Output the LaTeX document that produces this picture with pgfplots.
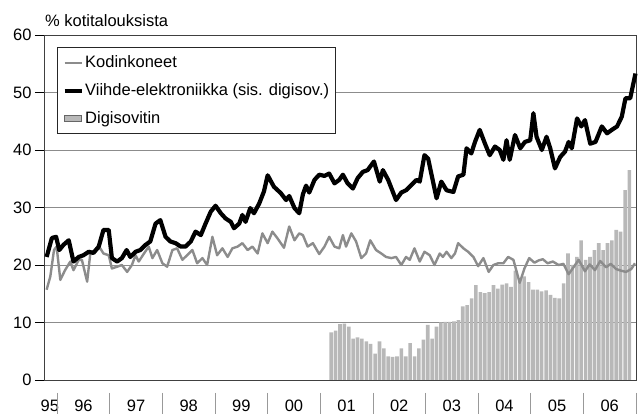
\documentclass[border=0pt]{standalone}
\usepackage{fontspec}
\setmainfont{Liberation Sans}
\usepackage{pgfplots}
\usepackage{pgfplotstable}
\pgfplotsset{compat=1.18}

\pgfplotstableread{
x y
1995.80 21.4
1995.90 24.7
1995.98 24.9
1996.04 22.6
1996.12 23.5
1996.22 24.3
1996.31 20.6
1996.41 21.4
1996.50 21.7
1996.60 22.3
1996.69 22.1
1996.79 23.2
1996.88 26.1
1996.98 26.1
1997.04 21.2
1997.14 20.6
1997.23 21.2
1997.32 22.6
1997.39 21.4
1997.49 22.3
1997.58 22.6
1997.68 23.5
1997.77 24.1
1997.87 27.2
1997.96 27.8
1998.06 24.9
1998.15 24.1
1998.25 23.8
1998.35 23.2
1998.44 23.2
1998.54 24.1
1998.63 25.8
1998.73 25.2
1998.82 27.2
1998.92 29.3
1999.01 30.3
1999.11 29.0
1999.20 28.1
1999.30 27.5
1999.36 26.4
1999.46 27.2
1999.52 28.7
1999.58 27.5
1999.67 29.9
1999.74 29.0
1999.84 30.7
1999.93 32.8
2000.00 35.6
2000.12 33.6
2000.25 32.5
2000.35 31.3
2000.41 32.0
2000.51 29.9
2000.60 29.0
2000.67 32.3
2000.73 33.8
2000.79 32.6
2000.89 34.8
2000.98 35.7
2001.08 35.5
2001.17 35.9
2001.27 34.2
2001.36 34.8
2001.43 35.7
2001.52 34.2
2001.62 33.3
2001.71 35.1
2001.81 36.2
2001.90 36.5
2002.02 38.0
2002.13 34.5
2002.19 36.5
2002.29 34.8
2002.38 32.7
2002.44 31.3
2002.54 32.6
2002.63 33.0
2002.73 33.9
2002.83 34.8
2002.89 34.5
2002.98 39.1
2003.05 38.5
2003.11 35.9
2003.21 31.6
2003.30 34.5
2003.40 33.0
2003.53 32.7
2003.62 35.4
2003.72 35.7
2003.78 40.3
2003.87 39.4
2003.94 41.4
2004.03 43.5
2004.13 41.1
2004.22 39.1
2004.32 40.6
2004.41 40.0
2004.48 38.3
2004.54 41.7
2004.60 38.3
2004.70 42.6
2004.80 40.3
2004.89 41.4
2004.99 41.7
2005.05 46.4
2005.11 42.3
2005.21 40.0
2005.30 42.3
2005.37 40.3
2005.46 36.8
2005.56 38.8
2005.65 39.7
2005.72 41.4
2005.78 40.3
2005.88 45.5
2005.96 44.1
2006.03 45.2
2006.13 41.1
2006.23 41.4
2006.35 44.1
2006.45 42.9
2006.54 43.5
2006.64 44.1
2006.73 45.8
2006.80 49.0
2006.89 49.0
2006.99 53.3
}\viihde

\pgfplotstableread{
x y
1995.80 15.7
1995.87 18.0
1995.94 22.6
1995.99 23.2
1996.06 17.4
1996.15 19.1
1996.25 20.6
1996.31 19.1
1996.41 20.9
1996.47 20.9
1996.57 17.1
1996.63 22.0
1996.72 22.6
1996.82 22.9
1996.88 22.0
1996.98 21.7
1997.04 19.4
1997.14 19.7
1997.23 20.0
1997.33 18.8
1997.42 20.0
1997.49 21.7
1997.55 20.6
1997.65 22.0
1997.74 23.2
1997.81 21.2
1997.90 22.6
1998.00 20.3
1998.09 19.7
1998.19 22.6
1998.28 22.9
1998.38 20.9
1998.47 21.7
1998.57 22.6
1998.66 20.3
1998.76 21.2
1998.85 20.0
1998.95 24.9
1999.04 21.7
1999.14 22.9
1999.24 21.4
1999.33 22.9
1999.43 23.2
1999.52 23.8
1999.62 22.6
1999.71 23.2
1999.81 22.0
1999.90 25.5
2000.00 23.8
2000.09 25.8
2000.19 24.6
2000.31 23.0
2000.41 26.7
2000.51 24.3
2000.60 25.5
2000.67 25.2
2000.76 23.2
2000.86 23.8
2000.98 21.9
2001.08 23.2
2001.17 24.9
2001.27 23.2
2001.36 22.9
2001.43 25.2
2001.49 23.2
2001.59 25.5
2001.68 24.1
2001.78 21.2
2001.87 22.0
2001.95 24.3
2002.06 22.6
2002.16 22.0
2002.25 21.4
2002.35 21.2
2002.44 21.4
2002.54 20.0
2002.63 21.4
2002.70 20.9
2002.79 22.9
2002.89 20.6
2002.98 22.3
2003.08 21.7
2003.17 20.0
2003.27 22.0
2003.33 21.4
2003.40 22.3
2003.49 21.2
2003.56 22.0
2003.62 23.8
2003.72 22.9
2003.81 22.3
2003.91 21.4
2004.00 19.8
2004.10 21.2
2004.20 18.8
2004.29 20.0
2004.38 20.3
2004.48 20.3
2004.57 21.4
2004.67 20.9
2004.79 16.9
2004.88 19.4
2004.97 21.2
2005.07 20.4
2005.15 20.8
2005.23 21.0
2005.32 20.3
2005.42 20.6
2005.53 20.0
2005.62 20.2
2005.72 18.4
2005.82 19.7
2005.91 20.9
2006.03 18.9
2006.12 20.1
2006.22 19.1
2006.32 20.7
2006.43 19.6
2006.52 20.2
2006.62 19.3
2006.72 19.0
2006.81 18.8
2006.91 19.3
2006.98 20.3
}\kodin

\pgfplotstableread{
x y
2001.208 8.3
2001.292 8.6
2001.375 9.7
2001.458 9.8
2001.542 9.3
2001.625 7.2
2001.708 7.4
2001.792 7.2
2001.875 6.7
2001.958 6.3
2002.042 4.6
2002.125 6.7
2002.208 5.5
2002.292 4.1
2002.375 4.0
2002.458 4.1
2002.542 5.5
2002.625 4.1
2002.708 6.4
2002.792 4.1
2002.875 5.5
2002.958 7.0
2003.042 9.6
2003.125 7.2
2003.208 9.3
2003.292 10.0
2003.375 10.1
2003.458 10.1
2003.542 10.2
2003.625 10.4
2003.708 12.8
2003.792 13.0
2003.875 14.2
2003.958 16.5
2004.042 15.3
2004.125 15.1
2004.208 15.3
2004.292 16.5
2004.375 15.9
2004.458 16.6
2004.542 16.8
2004.625 16.2
2004.708 19.0
2004.792 17.5
2004.875 18.0
2004.958 17.0
2005.042 15.7
2005.125 15.7
2005.208 15.4
2005.292 15.6
2005.375 14.8
2005.458 14.3
2005.542 14.2
2005.625 16.8
2005.708 22.0
2005.792 20.0
2005.875 21.4
2005.958 24.3
2006.042 20.9
2006.125 21.4
2006.208 22.6
2006.292 23.8
2006.375 22.6
2006.458 23.8
2006.542 24.3
2006.625 26.1
2006.708 25.8
2006.792 33.0
2006.875 36.5
}\digi

\begin{document}
\begin{tikzpicture}
\useasboundingbox (-44pt,-34pt) rectangle (598pt,380pt);
\begin{axis}[
  at={(0pt,0pt)}, anchor=south west,
  scale only axis, width=592pt, height=345pt,
  xmin=0.75, xmax=12, ymin=0, ymax=60,
  clip=false,
  font=\fontsize{16.5}{19}\selectfont,
  /pgf/number format/assume math mode=true,
  ytick={0,10,20,30,40,50,60},
  ymajorgrids,
  grid style={black!45, line width=0.6pt},
  axis line style={black!75, line width=0.8pt},
  ytick pos=left, tick align=outside, major tick length=9pt,
  y tick style={black, line width=0.7pt},
  xtick={0.86,1.5,2.5,3.5,4.5,5.5,6.5,7.5,8.5,9.5,10.5,11.5},
  xticklabels={95,96,97,98,99,00,01,02,03,04,05,06},
  x tick style={draw=none},
  xticklabel style={yshift=-7pt},
  legend style={at={(axis description cs:0.022,0.965)}, anchor=north west,
    draw=black!85, line width=0.8pt, font=\fontsize{16.5}{19}\selectfont,
    row sep=11.5pt, inner xsep=5pt, inner ysep=7pt,
    nodes={inner sep=1.5pt}},
  legend cell align=left,
]
\addplot[ybar, bar shift=0pt, bar width=0.068, fill=black!28, draw=none, forget plot] table[x expr=\thisrow{x}-1995, y=y] {\digi};
\addplot[color=black!45, line width=2.4pt, line join=round, forget plot] table[x expr=\thisrow{x}-1995, y=y] {\kodin};
\addplot[color=black, line width=4.2pt, line join=round, forget plot] table[x expr=\thisrow{x}-1995, y=y] {\viihde};
\addlegendimage{black!45, line width=2.4pt}
\addlegendentry{Kodinkoneet}
\addlegendimage{black, line width=4.2pt}
\addlegendentry{Viihde-elektroniikka (sis. digisov.)}
\addlegendimage{area legend, fill=black!28, draw=black!60}
\addlegendentry{Digisovitin}
\pgfplotsinvokeforeach{1,2,3,4,5,6,7,8,9,10,11,12}{
  \draw[black!40, line width=0.7pt] (axis cs:#1,0) ++(0pt,-13pt) -- ++(0pt,-21pt);
}
\node[anchor=base west, inner sep=0pt, font=\fontsize{16.5}{19}\selectfont] at (rel axis cs:0,1) [xshift=1pt, yshift=8pt] {\% kotitalouksista};
\end{axis}
\end{tikzpicture}
\end{document}
